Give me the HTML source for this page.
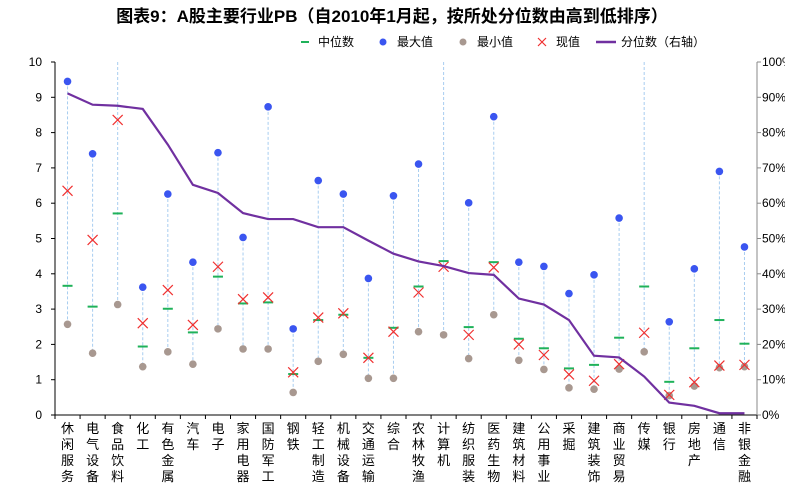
<!DOCTYPE html>
<html><head><meta charset="utf-8"><style>
body{margin:0;background:#fff;}
svg{display:block;font-family:"Liberation Sans","Noto Sans CJK SC",sans-serif;}
</style></head><body>
<svg id="chart" width="785" height="494" viewBox="0 0 785 494" xmlns="http://www.w3.org/2000/svg">
<text x="392" y="22" text-anchor="middle" font-size="17" font-weight="bold" fill="#000">图表9：A股主要行业PB（自2010年1月起，按所处分位数由高到低排序）</text>
<g id="legend" font-size="12" fill="#000">
<g><line x1="301" y1="42" x2="309" y2="42" stroke="#1fb25a" stroke-width="2"/><text x="318" y="46">中位数</text></g>
<g><circle cx="383" cy="42" r="3.5" fill="#3a55f0"/><text x="397" y="46">最大值</text></g>
<g><circle cx="463" cy="42" r="3.5" fill="#a89890"/><text x="477" y="46">最小值</text></g>
<g><path d="M538,38 l8,8 M546,38 l-8,8" stroke="#f03030" stroke-width="1.2"/><text x="556" y="46">现值</text></g>
<g><line x1="596" y1="42" x2="616" y2="42" stroke="#7030a0" stroke-width="2.5"/><text x="621" y="46">分位数（右轴）</text></g>
</g>
</svg>
<script>
const categories=["休闲服务","电气设备","食品饮料","化工","有色金属","汽车","电子","家用电器","国防军工","钢铁","轻工制造","机械设备","交通运输","综合","农林牧渔","计算机","纺织服装","医药生物","建筑材料","公用事业","采掘","建筑装饰","商业贸易","传媒","银行","房地产","通信","非银金融"];
const maxVals=[9.45,7.40,12,3.62,6.26,4.33,7.43,5.03,8.73,2.44,6.64,6.26,3.87,6.21,7.11,12,6.01,8.45,4.33,4.21,3.44,3.97,5.58,12,2.64,4.14,6.90,4.76];
const medianVals=[3.66,3.07,5.71,1.94,3.01,2.34,3.92,3.16,3.19,1.16,2.69,2.84,1.62,2.47,3.64,4.36,2.49,4.33,2.16,1.89,1.32,1.42,2.19,3.64,0.94,1.89,2.69,2.02];
const minVals=[2.57,1.75,3.13,1.37,1.79,1.44,2.44,1.87,1.87,0.64,1.52,1.72,1.04,1.04,2.36,2.27,1.60,2.84,1.55,1.29,0.77,0.73,1.30,1.79,0.55,0.82,1.34,1.37];
const currentVals=[6.35,4.96,8.36,2.60,3.54,2.55,4.20,3.28,3.33,1.21,2.76,2.88,1.62,2.36,3.47,4.20,2.27,4.18,2.00,1.70,1.15,0.97,1.44,2.33,0.57,0.93,1.40,1.42];
const percentileVals=[91.1,87.9,87.6,86.7,76.6,65.2,62.9,57.2,55.5,55.5,53.2,53.2,49.4,45.7,43.5,42.2,40.2,39.7,33.0,31.3,26.9,16.8,16.3,10.9,3.5,2.6,0.5,0.5];
const leftTicks=[0,1,2,3,4,5,6,7,8,9,10];
const rightTicks=[0,10,20,30,40,50,60,70,80,90,100];

const NS="http://www.w3.org/2000/svg";
const svg=document.getElementById('chart');
const X0=55,X1=757,Y0=415,Y1=62;
const step=(X1-X0)/categories.length;
const xPos=i=>X0+step*(i+0.5);
const yL=v=>Y0-(Math.min(v,10)/10)*(Y0-Y1);
const yR=p=>Y0-(p/100)*(Y0-Y1);
function mk(tag,attrs,parent){const e=document.createElementNS(NS,tag);for(const k in attrs)e.setAttribute(k,attrs[k]);(parent||svg).appendChild(e);return e;}

// axes
const axes=mk('g',{});


mk('line',{x1:X0,y1:Y1,x2:X0,y2:Y0,stroke:'#000','stroke-width':1},axes);
mk('line',{x1:X0,y1:Y0,x2:X1,y2:Y0,stroke:'#000','stroke-width':1},axes);
mk('line',{x1:X1,y1:Y1,x2:X1,y2:Y0,stroke:'#888','stroke-width':1},axes);
leftTicks.forEach(t=>{
  const y=yL(t);
  mk('line',{x1:X0-4,y1:y,x2:X0,y2:y,stroke:'#000'},axes);
  const tx=mk('text',{x:X0-13,y:y+4,'text-anchor':'end','font-size':12,fill:'#000'},axes);
  tx.textContent=t;
  
  
});
rightTicks.forEach(t=>{
  const y=yR(t);
  mk('line',{x1:X1,y1:y,x2:X1+4,y2:y,stroke:'#888'},axes);
  const tx=mk('text',{x:X1+5,y:y+4,'font-size':12,fill:'#000'},axes);
  tx.textContent=t+'%';
  
  
});
for(let i=0;i<=categories.length;i++){
  const x=X0+step*i;
  mk('line',{x1:x,y1:Y0,x2:x,y2:Y0+4,stroke:'#000'},axes);
}
// x labels
categories.forEach((c,i)=>{
  const t=mk('text',{'font-size':13,fill:'#000','text-anchor':'middle'});
  
  
  [...c].forEach((ch,k)=>{const s=mk('tspan',{x:xPos(i),y:433+k*16},t);s.textContent=ch;});
});
// series
const g=mk('g',{});


categories.forEach((c,i)=>{
  const x=xPos(i);
  const rl=mk('line',{x1:x,y1:yL(maxVals[i]),x2:x,y2:yL(minVals[i]),stroke:'#a8cdf0','stroke-width':1,'stroke-dasharray':'3,2'},g);
  
  
  if(maxVals[i]<=10){
    const mx=mk('circle',{cx:x,cy:yL(maxVals[i]),r:3.8,fill:'#3a55f0'},g);
    
    
  }
  const mn=mk('circle',{cx:x,cy:yL(minVals[i]),r:3.8,fill:'#a89890'},g);
  
  
  const md=mk('line',{x1:x-5,y1:yL(medianVals[i]),x2:x+5,y2:yL(medianVals[i]),stroke:'#1fb25a','stroke-width':2},g);
  
  
  const cy=yL(currentVals[i]);
  const cu=mk('path',{d:`M${x-5},${cy-5} L${x+5},${cy+5} M${x+5},${cy-5} L${x-5},${cy+5}`,stroke:'#f03030','stroke-width':1.2,fill:'none'},g);
  
  
});
const pl=mk('polyline',{points:percentileVals.map((p,i)=>xPos(i)+','+yR(p)).join(' '),fill:'none',stroke:'#7030a0','stroke-width':2.2});


</script>
</body></html>
